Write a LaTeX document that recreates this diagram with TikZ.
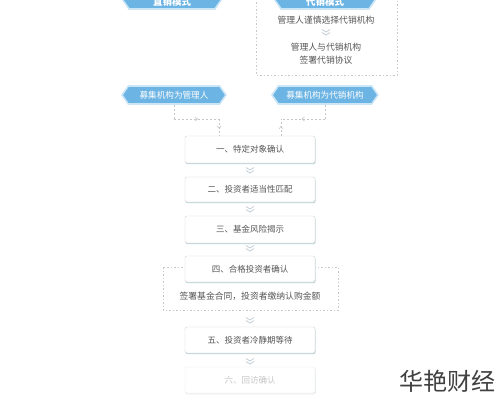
\documentclass[tikz,border=0pt]{standalone}
\usepackage{fontspec}
\setmainfont{Noto Sans CJK SC}
\usetikzlibrary{shapes.symbols,shadows,decorations.markings}
\definecolor{bannerblue}{RGB}{108,180,228}
\definecolor{bannerpale}{RGB}{205,230,246}
\definecolor{boxtext}{RGB}{85,85,85}
\definecolor{dashgray}{RGB}{200,200,200}
\definecolor{chev}{RGB}{195,208,218}
\definecolor{shadowc}{RGB}{190,214,216}
\tikzset{
  banner/.style={signal, signal to=west and east, signal pointer angle=110,
    fill=bannerblue, draw=bannerpale, line width=1.6pt, text=white,
    font=\fontsize{8.6}{9}\selectfont, inner sep=2pt, minimum height=18pt},
  bannertext/.style={text=white, font=\fontsize{9.5}{10}\selectfont\bfseries, inner sep=0pt},
  stepbox/.style={rectangle, rounded corners=2pt, draw=gray!35, fill=white,
    minimum width=130pt, minimum height=26pt, text=boxtext,
    font=\fontsize{8.5}{10}\selectfont,
    drop shadow={shadow xshift=0.6pt, shadow yshift=-1.2pt, fill=shadowc, opacity=1}},
  fadedbox/.style={stepbox, draw=gray!18, text=gray!45,
    drop shadow={shadow xshift=0.6pt, shadow yshift=-1.2pt, fill=gray!10, opacity=1}},
  dashframe/.style={draw=dashgray, line width=0.7pt, dash pattern=on 1.5pt off 2pt},
  plaintext/.style={text=boxtext, font=\fontsize{8.8}{13}\selectfont, align=center},
  link/.style={draw=gray!45, line width=0.5pt, dash pattern=on 2pt off 2pt},
  midarrow/.style={postaction={decorate}, decoration={markings,
    mark=at position 0.5 with {\draw[gray!50, solid, line width=0.5pt] (-1.5pt,-2pt) -- (1pt,0) -- (-1.5pt,2pt);}}}
}
\newcommand{\chevmark}[1]{%
  \draw[chev, line width=0.8pt] ([xshift=-4pt,yshift=2.5pt]#1) -- (#1) -- ([xshift=4pt,yshift=2.5pt]#1);
  \draw[chev, line width=0.8pt] ([xshift=-4pt,yshift=-0.5pt]#1) -- ([yshift=-3pt]#1) -- ([xshift=4pt,yshift=-0.5pt]#1);}
\begin{document}
\begin{tikzpicture}[x=1pt,y=-1pt]
\useasboundingbox (0,0) rectangle (500,400);
\clip (0,0) rectangle (500,400);
\fill[white] (0,0) rectangle (500,400);

% top right dashed frame
\draw[dashframe] (256,-5) rectangle (397,75);

% top banners (cut off by the edge, as in the reference)
\node[banner, minimum width=104pt, minimum height=26pt] (direct) at (172,-4) {};
\node[bannertext] (directtext) at (172,1.5) {直销模式};
\node[banner, minimum width=106pt, minimum height=26pt] (agency) at (325,-4) {};
\node[bannertext] (agencytext) at (325,1.5) {代销模式};

% top right texts
\node[plaintext] (choose) at (326,20) {管理人谨慎选择代销机构};
\coordinate (chev0) at (326,32);
\node[plaintext] (sign) at (326,54) {管理人与代销机构\\签署代销协议};

% second row banners
\node[banner, minimum width=104pt] (bL) at (174,95) {募集机构为管理人};
\node[banner, minimum width=106pt] (bR) at (325,95) {募集机构为代销机构};

% main steps
\node[stepbox, minimum height=27pt] (s1) at (250,149.5) {一、特定对象确认};
\node[stepbox, minimum height=25pt] (s2) at (250,189.5) {二、投资者适当性匹配};
\node[stepbox, minimum height=27pt] (s3) at (250,229.5) {三、基金风险揭示};
\draw[dashframe] (163,267) rectangle (338,310);
\node[stepbox] (s4) at (250,269) {四、合格投资者确认};
\node[plaintext] (contract) at (250,296) {签署基金合同，投资者缴纳认购金额};
\node[stepbox] (s5) at (250,340) {五、投资者冷静期等待};
\node[fadedbox] (s6) at (250,380) {六、回访确认};

% connectors from banners
\coordinate (cL) at (219,119);
\coordinate (cR) at (281,119);
\draw[link] (bL.south) -- (bL.south |- cL);
\draw[link, midarrow] (bL.south |- cL) -- (cL);
\draw[link, midarrow] (cL) -- (cL |- s1.north);
\draw[link] (bR.south) -- (bR.south |- cR);
\draw[link, midarrow] (bR.south |- cR) -- (cR);
\draw[link, midarrow] (cR |- s1.north) -- (cR);

% chevrons between steps
\coordinate (chev1) at (250,170);
\coordinate (chev2) at (250,209);
\coordinate (chev3) at (250,248);
\coordinate (chev4) at (250,320);
\coordinate (chev5) at (250,361);
\chevmark{chev0}
\chevmark{chev1}
\chevmark{chev2}
\chevmark{chev3}
\chevmark{chev4}
\chevmark{chev5}

% watermark
\node[text=black!75, font=\fontsize{24}{26}\selectfont] (mark) at (447,381) {华艳财经};
\end{tikzpicture}
\end{document}
